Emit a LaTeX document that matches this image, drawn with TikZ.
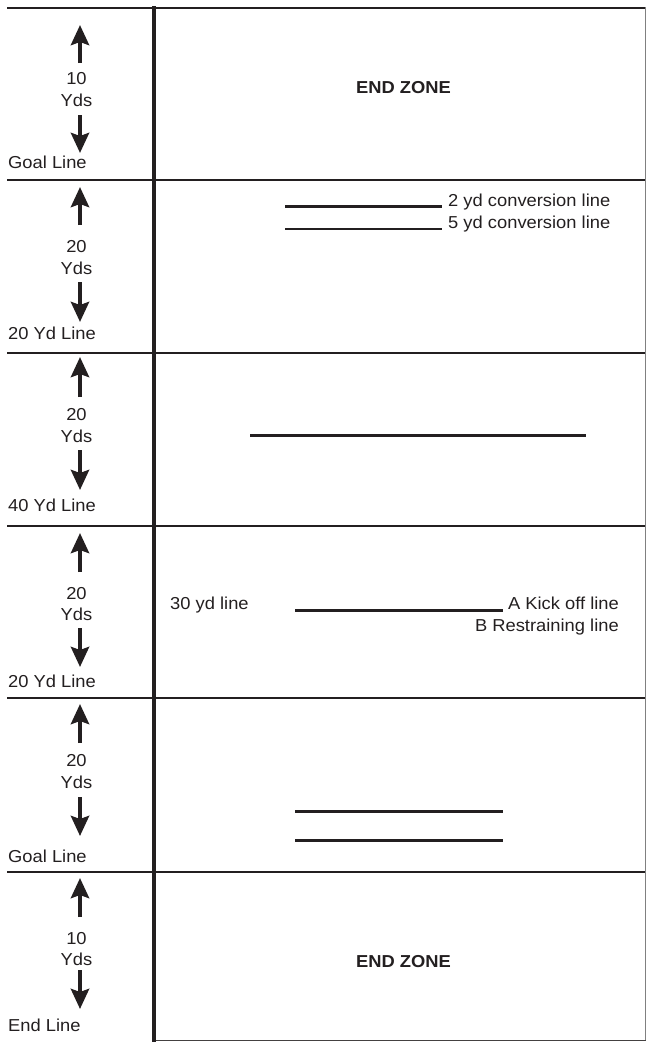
\documentclass[tikz,border=0pt]{standalone}
\usepackage{fontspec}
\setmainfont[FakeStretch=1.06]{Liberation Sans}
\usetikzlibrary{arrows.meta}
\definecolor{ink}{HTML}{231F20}
\begin{document}
\begin{tikzpicture}[x=1pt,y=-1pt,
  txt/.style={inner sep=0pt, text=ink, font=\fontsize{17.3}{20}\selectfont},
  bold/.style={txt, font=\fontsize{17.3}{20}\selectfont\bfseries},
  sepline/.style={line width=2.2pt, draw=ink},
  yarrow/.style={-{Stealth[length=20pt,width=18pt,inset=3pt]}, line width=4.2pt, draw=ink},
  fieldline/.style={line width=2.5pt, draw=ink}]
\useasboundingbox (0,0) rectangle (646,1042);

% separators
\foreach \y in {8,180.3,352.8,525.8,697.8,871.7}
  \draw[sepline] (7,\y) -- (646,\y);
% right border and bottom
\draw[line width=0.9pt, draw=gray] (645.4,7) -- (645.4,1041);
\draw[line width=1.4pt, draw=ink!85] (154,1040.6) -- (646,1040.6);
% thick side line
\draw[line width=4.3pt, draw=ink] (154,6) -- (154,1042);

% left column: up tip / up shaft end / number / Yds / down start / down tip / label / number text / label text
\foreach \i/\tu/\su/\nu/\yy/\sd/\td/\lb/\num/\lab in {
  1/25/63/78/100/115/153/162/10/Goal Line,
  2/187/225/246/268/282/322/333/20/20 Yd Line,
  3/357/397/414/436/450/490/505/20/40 Yd Line,
  4/533/572/593/614/628/667/681/20/20 Yd Line,
  5/704/743/760/782/797/836/856/20/Goal Line,
  6/878/917/938/959/970/1009/1025/10/End Line} {
  \coordinate (upS\i) at (80,\su);
  \coordinate (upT\i) at (80,\tu);
  \coordinate (dnS\i) at (80,\sd);
  \coordinate (dnT\i) at (80,\td);
  \draw[yarrow] (upS\i) -- (upT\i);
  \draw[yarrow] (dnS\i) -- (dnT\i);
  \node[txt, anchor=base] (num\i) at (76.5,\nu+6) {\num};
  \node[txt, anchor=base] (yds\i) at (76.5,\yy+6) {Yds};
  \node[txt, anchor=base west] (lab\i) at (8,\lb+6) {\lab};
}

% end zones
\node[bold, anchor=base] (ez1) at (403.5,93.5) {END ZONE};
\node[bold, anchor=base] (ez2) at (403.5,967) {END ZONE};

% conversion lines
\coordinate (c2a) at (285,206.7);
\coordinate (c2b) at (442,206.7);
\coordinate (c5a) at (285,229);
\coordinate (c5b) at (442,229);
\draw[fieldline] (c2a) -- (c2b);
\draw[fieldline] (c5a) -- (c5b);
\node[txt, anchor=base west] (t2) at (448,206) {2 yd conversion line};
\node[txt, anchor=base west] (t5) at (448,228.5) {5 yd conversion line};

% midfield line
\coordinate (m1) at (250,435.7);
\coordinate (m2) at (586,435.7);
\draw[fieldline] (m1) -- (m2);

% kick off
\node[txt, anchor=base west] (t30) at (170,609) {30 yd line};
\coordinate (k1) at (295,610.7);
\coordinate (k2) at (503,610.7);
\draw[fieldline] (k1) -- (k2);
\node[txt, anchor=base east] (tA) at (619,609) {A Kick off line};
\node[txt, anchor=base east] (tB) at (619,631) {B Restraining line};

% two lines near goal
\coordinate (g1a) at (295,811.7);
\coordinate (g1b) at (503,811.7);
\coordinate (g2a) at (295,840.3);
\coordinate (g2b) at (503,840.3);
\draw[fieldline] (g1a) -- (g1b);
\draw[fieldline] (g2a) -- (g2b);
\end{tikzpicture}
\end{document}
